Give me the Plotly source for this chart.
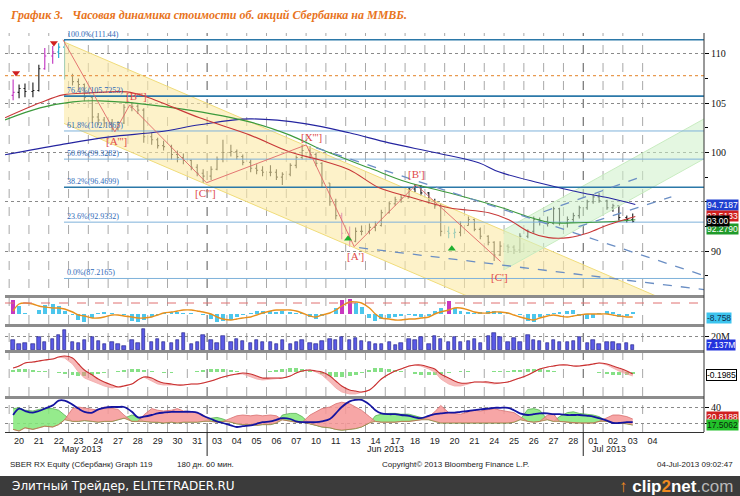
import plotly.graph_objects as go

# ---------------- data ----------------
day_labels = ["20","21","22","23","24","27","28","29","30","31","03","04","05","06","07",
              "10","11","13","14","17","18","19","20","21","24","25","26","27","28","01","02","03","04"]
month_labels = ["May 2013", "Jun 2013", "Jul 2013"]
month_pos = [3.2, 18.5, 29.8]
month_breaks = [9.5, 28.5]

# hourly-ish bars, grouped per trading day
price_open = [[105.8,106.1,106.5],[106.2,106.3,108.5],[109.8,110.2,110.7],[107.8,107.2,106.9],
 [105.6,103.6,103.3],[103.0,102.4,103.0],[104.6,104.7,104.3],[101.6,101.3,100.7],[100.6,99.8,99.5],
 [99.2,98.5,97.9],[97.6,98.3,99.3],[100.0,100.1,99.6],[99.0,98.4,98.2],[98.0,98.0,97.5],
 [97.8,98.7,99.5],[100.2,99.8,98.9],[96.9,95.0,93.6],[91.8,91.0,92.0],[92.0,92.4,92.6],
 [93.9,94.8,95.2],[95.4,96.3,96.5],[95.9,95.1,94.6],[92.0,91.8,91.9],[92.6,93.2,92.2],
 [91.5,90.9,89.6],[90.5,90.4,90.1],[91.5,92.0,93.2],[93.0,92.8,94.3],[92.9,93.2,93.6],
 [94.4,95.0,95.5],[95.1,94.4,94.6],[93.4,93.2]]
price_high = [[107.4,106.9,107.0],[107.1,108.9,110.6],[110.8,111.1,111.44],[108.0,107.5,107.0],
 [105.7,104.0,103.6],[103.4,103.2,104.9],[105.1,104.9,104.5],[102.0,101.5,101.2],[100.8,100.2,99.9],
 [99.3,98.8,98.3],[98.6,99.6,101.3],[100.8,100.3,99.8],[99.3,98.8,98.6],[98.7,98.3,98.0],
 [98.9,99.7,100.8],[100.6,100.0,99.0],[96.9,95.3,93.9],[92.5,92.4,92.6],[92.8,93.0,94.2],
 [95.0,95.5,95.7],[96.5,96.8,96.7],[96.0,95.3,94.8],[92.5,92.3,93.0],[93.5,93.3,92.4],
 [91.6,91.0,91.0],[90.7,90.6,91.8],[92.2,93.5,93.4],[93.5,94.5,94.4],[93.5,93.9,94.6],
 [95.2,95.8,95.9],[95.2,94.8,94.6],[93.6,93.8]]
price_low = [[105.3,105.5,105.6],[105.6,106.2,108.4],[109.0,109.6,107.4],[106.8,106.3,105.2],
 [103.0,102.8,102.6],[102.1,102.2,102.9],[104.2,103.9,101.0],[100.8,100.4,100.2],[99.3,99.0,98.8],
 [98.2,97.6,96.9],[97.2,98.2,99.0],[99.6,99.3,98.7],[98.0,97.8,97.6],[97.6,97.2,96.7],
 [97.6,98.4,99.3],[99.4,98.6,96.5],[94.6,93.2,91.2],[90.45,90.9,91.6],[91.7,92.0,92.5],
 [93.8,94.6,94.9],[95.4,96.0,95.6],[94.8,94.3,91.5],[91.3,91.3,91.5],[92.6,92.0,91.2],
 [90.6,89.0,89.5],[89.8,89.7,89.8],[91.3,91.8,92.6],[92.5,92.7,92.6],[92.4,92.9,93.3],
 [94.2,94.8,94.9],[94.2,94.0,93.1],[92.9,92.9]]
price_close = [[106.1,106.5,106.2],[106.3,108.5,109.8],[110.2,110.7,107.8],[107.2,106.9,105.6],
 [103.6,103.3,103.0],[102.4,103.0,104.6],[104.7,104.3,101.6],[101.3,100.7,100.6],[99.8,99.5,99.2],
 [98.5,97.9,97.6],[98.3,99.3,100.0],[100.1,99.6,99.0],[98.4,98.2,98.0],[98.0,97.5,97.8],
 [98.7,99.5,100.2],[99.8,98.9,96.9],[95.0,93.6,91.8],[91.0,92.0,92.0],[92.4,92.6,93.9],
 [94.8,95.2,95.4],[96.3,96.5,95.9],[95.1,94.6,92.0],[91.8,91.9,92.6],[93.2,92.2,91.5],
 [90.9,89.6,90.5],[90.4,90.1,91.5],[92.0,93.2,93.0],[92.8,94.3,92.9],[93.2,93.6,94.4],
 [95.0,95.5,95.1],[94.4,94.6,93.4],[93.2,93.0]]
bar_tone = ["mkk","kkm","mcc","kkk","kkk","kkk","kkk","kkk","kkk","kkk","kkk","kkk","kkk","kkk",
            "kkk","kkk","kkm","mkk","kkk","kkk","kkk","kkk","cck","kkk","kkk","kkk","kkk","kkk",
            "kkk","kkk","kkk","kk"]

# oscillator panel (histogram + orange signal)
osc_hist = [[14,8,1],[0,4,9],[10,8,3],[-1,-6,-8],[-4,1,2],[1,0,-1],[-7,-8,-6],[-3,-1,1],[2,2,1],
 [1,0,-1],[-5,-8,-7],[-6,-3,-1],[1,3,3],[3,2,3],[2,1,1],[-3,-5,-2],[0,6,14],[15,11,7],[-4,-7,-5],
 [-4,-3,-2],[-1,-2,-3],[-2,3,6],[13,6,3],[2,1,2],[3,3,2],[1,0,-1],[-7,-8,-3],[-1,1,2],[3,4,-2],
 [-5,-4,1],[3,2,-3],[-2,2]]
osc_signal = [[3,10,11],[10,8,7],[6,6,5],[2,-1,-2],[-4,-4,-3],[-1,-1,-2],[-3,-4,-4],[-3,-1,1],
 [2,3,4],[4,3,2],[0,-3,-5],[-6,-5,-4],[-3,-1,1],[3,4,4],[4,3,1],[-2,-3,-1],[1,4,8],[12,12,11],
 [6,0,-4],[-5,-6,-6],[-5,-5,-4],[-3,0,2],[4,6,6],[4,2,1],[1,2,2],[1,-1,-3],[-5,-6,-4],[-2,-1,-2],
 [-3,-2,-1],[0,0,0],[0,-1,-2],[-3,-3]]
osc_level = 11

# volume, millions
volume = [[14,8,10],[9,18,12],[16,22,28],[12,10,15],[18,13,9],[12,8,6],[14,10,30],[12,16,11],
 [10,14,24],[8,12,22],[14,10,20],[12,16,13],[10,14,12],[11,9,15],[8,12,14],[10,9,13],[16,14,18],
 [15,17,13],[12,9,8],[11,7,10],[16,14,18],[9,20,16],[12,18,11],[13,16,10],[20,24,18],[11,17,12],
 [22,15,13],[10,14,12],[11,13,18],[10,14,9],[11,12,8],[10,7.137]]

# MACD-like panel
macd_line = [[4,6,9],[10,11,12],[13,15,16],[14,8,2],[-3,-7,-10],[-13,-15,-14],[-12,-8,-5],
 [-6,-9,-11],[-12,-13,-13],[-12,-12,-11],[-9,-7,-5],[-3,-2,-1],[-2,-4,-6],[-6,-6,-6],[-4,-1,1],
 [2,1,0],[-4,-9,-14],[-18,-19,-20],[-18,-13,-7],[-2,1,3],[6,7,7],[5,3,-2],[-6,-9,-11],
 [-11,-10,-10],[-10,-11,-11],[-10,-8,-6],[-3,0,3],[5,6,7],[7,6,6],[7,8,9],[8,6,4],[1,-2]]
macd_fast = [[5,7,10],[11,12,13],[14,15,14],[8,0,-6],[-9,-12,-14],[-16,-15,-13],[-11,-7,-5],
 [-9,-12,-13],[-13,-13,-12],[-12,-11,-10],[-8,-6,-4],[-2,-1,-2],[-5,-7,-8],[-7,-6,-5],[-3,0,2],
 [2,0,-3],[-10,-16,-20],[-22,-22,-20],[-16,-11,-5],[0,3,4],[7,7,6],[3,0,-7],[-12,-14,-14],
 [-12,-10,-10],[-11,-12,-11],[-9,-7,-5],[-2,1,4],[6,7,7],[7,6,6],[8,9,9],[7,4,1],[-2,-4]]
macd_hist = [[2,3,3],[2,1,1],[0,-1,-2],[-3,-4,-4],[-3,-2,-1],[0,1,2],[3,3,2],[1,0,-1],[-1,0,0],
 [0,1,2],[3,3,3],[2,1,0],[0,0,0],[1,2,3],[4,4,3],[2,0,-2],[-4,-5,-5],[-4,-3,-1],[2,4,4],[3,2,1],
 [0,-2,-3],[-3,-3,-2],[-1,0,1],[1,0,0],[0,1,1],[1,2,2],[3,3,3],[2,1,0],[0,0,0],[0,0,-1],
 [-2,-3,-3],[-3,-2]]

# DMI panel
adx = [[30,38,35],[33,35,38],[42,48,48],[43,38,34],[33,37,39],[40,40,40],[34,27,28],[30,32,33],
 [34,34,34],[34,33,29],[25,22,20],[17,15,16],[17,19,21],[22,24,26],[25,22,21],[21,21,22],
 [25,32,40],[47,49,49],[43,36,32],[31,31,30],[29,27,26],[29,31,32],[33,33,34],[35,36,37],
 [38,39,39],[39,36,32],[30,31,32],[32,31,31],[30,30,30],[29,28,26],[23,20,20],[21,21]]
di_plus = [[38,39,36],[35,37,38],[38,36,30],[22,22,23],[22,21,22],[22,24,26],[30,28,22],
 [21,21,20],[21,20,21],[21,21,22],[26,27,25],[21,19,18],[18,17,18],[18,20,30],[32,32,28],
 [19,17,15],[14,12,11],[12,13,15],[20,29,31],[32,32,31],[31,29,27],[24,22,20],[20,20,20],
 [20,20,20],[20,20,20],[20,21,24],[37,38,36],[24,22,28],[33,34,32],[31,30,28],[22,20,20],[19,17.5]]
di_minus = [[12,10,14],[12,14,16],[15,18,24],[38,40,39],[37,36,40],[38,37,30],[22,22,30],
 [38,36,35],[36,38,35],[34,33,30],[22,21,22],[26,29,30],[29,30,29],[30,29,24],[22,21,21],
 [30,34,38],[40,44,46],[44,40,36],[28,22,21],[21,21,22],[22,23,24],[28,34,42],[33,32,31],
 [34,36,35],[37,38,36],[34,33,28],[22,21,22],[30,31,22],[21,20,20],[20,20,22],[26,30,30],[28,25]]

# moving averages (day index, price)
ma_blue_x = [-0.71,2.07,4.58,7.10,9.12,11.64,14.51,16.68,18.69,21.06,23.22,24.23,26.25,28.41,29.77,31.13]
ma_blue_y = [99.77,100.78,101.59,102.10,102.81,103.41,102.91,102.00,100.98,99.97,98.96,98.04,96.93,95.92,95.41,94.72]
ma_red_x = [-0.71,1.06,2.22,3.58,5.44,6.45,9.12,11.64,13.65,15.16,16.68,18.19,19.70,21.71,23.73,24.74,25.74,26.75,27.76,28.77,29.77,31.13]
ma_red_y = [103.52,105.04,105.85,106.05,106.15,105.64,103.52,101.79,100.07,99.26,98.25,96.42,95.51,94.40,93.89,93.18,91.97,91.36,91.36,91.86,92.67,93.51]
ma_green_x = [-0.71,1.06,2.72,4.08,7.46,11.64,13.65,15.31,17.68,19.55,21.71,24.23,25.89,26.90,28.26,29.77,31.13]
ma_green_y = [103.31,104.53,105.14,105.24,104.63,103.11,101.79,100.27,98.45,97.03,95.92,94.50,93.38,92.88,92.88,92.98,93.18]

# Fibonacci retracement
fib_pct = [100.0, 76.4, 61.8, 50.0, 38.2, 23.6, 0.0]
fib_val = [111.44, 105.7253, 102.1865, 99.3282, 96.4699, 92.9332, 87.2165]
fib_strong = [True, True, False, False, True, False, False]
fib_start = 2.27

# channels and trend lines (day index, price)
chan_x = [2.27, 34.6]
chan_upper = [111.22, 83.35]
chan_lower = [102.95, 75.15]
green_x = [24.48, 34.6]
green_upper = [92.13, 103.41]
green_lower = [88.08, 99.36]
trend_lines = [([17.18, 34.6], [90.34, 86.09]),
               ([15.01, 34.6], [100.48, 87.51]),
               ([28.26, 32.95], [92.47, 95.51]),
               ([26.5, 31.28], [93.99, 97.43])]
resist_level = 107.8

# Elliott wave zigzag and labels
wave_x = [2.22, 4.84, 5.59, 9.47, 14.51, 16.93, 20.05, 24.33]
wave_y = [111.44, 102.10, 104.83, 96.93, 100.78, 90.45, 96.73, 88.93]
wave_lbl = ["[A''']", "[B''']", "[C''']", "[X''']", "[A']", "[B']", "[C']"]
wave_lbl_x = [4.94, 5.94, 9.42, 14.76, 16.98, 20.10, 24.28]
wave_lbl_y = [101.19, 105.74, 95.92, 101.59, 89.53, 97.84, 87.41]
sell_x = [-0.15, 1.76]
sell_y = [108.07, 111.11]
buy_x = [16.62, 21.86]
buy_y = [91.26, 90.24]

# last value boxes
price_boxes = [("94.7187", 94.72, "#1f3fd0", "white"), ("93.5133", 93.51, "#d02020", "white"),
               ("92.2790", 92.28, "#1f9a2a", "white"), ("93.00", 93.0, "#000000", "white")]

# ---------------- build ----------------
def flat(nested):
    return [v for day in nested for v in day]

bar_x = []
for d, day in enumerate(price_close):
    for k in range(len(day)):
        bar_x.append(d - 0.3 + 0.3 * k)

O, H, L, C = flat(price_open), flat(price_high), flat(price_low), flat(price_close)
tones = [t for s in bar_tone for t in s]

X0, X1 = -0.71, 34.6
PY = (85.54, 112.13)

fig = go.Figure()
skip = dict(hoverinfo="skip", showlegend=False)

fig.add_trace(go.Scatter(x=chan_x, y=chan_lower, mode="lines", line=dict(color="#f0dc7a", width=1), **skip))
fig.add_trace(go.Scatter(x=chan_x, y=chan_upper, mode="lines", fill="tonexty",
                         fillcolor="rgba(252,234,165,0.6)", line=dict(color="#f0dc7a", width=1), **skip))
fig.add_trace(go.Scatter(x=green_x, y=green_lower, mode="lines", line=dict(color="#c8ecc0", width=1), **skip))
fig.add_trace(go.Scatter(x=green_x, y=green_upper, mode="lines", fill="tonexty",
                         fillcolor="rgba(205,240,200,0.55)", line=dict(color="#c8ecc0", width=1), **skip))
fig.add_trace(go.Scatter(x=[X0, X1], y=[resist_level, resist_level], mode="lines",
                         line=dict(color="#e89a50", width=1.3, dash="dot"), **skip))
for pct, val, strong in zip(fib_pct, fib_val, fib_strong):
    fig.add_trace(go.Scatter(x=[fib_start, X1], y=[val, val], mode="lines",
                             line=dict(color="#2b78a8" if strong else "#7fb2da", width=1.6 if strong else 1), **skip))
fig.add_trace(go.Scatter(x=ma_blue_x, y=ma_blue_y, mode="lines", line=dict(color="#2424a0", width=1.1, shape="spline"), **skip))
fig.add_trace(go.Scatter(x=ma_green_x, y=ma_green_y, mode="lines", line=dict(color="#3c9a3c", width=1.1, shape="spline"), **skip))
fig.add_trace(go.Scatter(x=ma_red_x, y=ma_red_y, mode="lines", line=dict(color="#c83838", width=1.1, shape="spline"), **skip))
for tx, ty in trend_lines:
    fig.add_trace(go.Scatter(x=tx, y=ty, mode="lines", line=dict(color="#6a8ec4", width=1.3, dash="dash"), **skip))
fig.add_trace(go.Scatter(x=wave_x, y=wave_y, mode="lines", line=dict(color="#e06868", width=0.9), **skip))
tone_col = {"k": "#1a1a1a", "m": "#c030c0", "c": "#22a8d4"}
for t, col in tone_col.items():
    idx = [i for i, tt in enumerate(tones) if tt == t]
    fig.add_trace(go.Ohlc(x=[bar_x[i] for i in idx], open=[O[i] for i in idx], high=[H[i] for i in idx],
                          low=[L[i] for i in idx], close=[C[i] for i in idx],
                          increasing=dict(line=dict(color=col, width=1.1)),
                          decreasing=dict(line=dict(color=col, width=1.1)),
                          tickwidth=0.25, **skip))
fig.add_trace(go.Scatter(x=sell_x, y=sell_y, mode="markers",
                         marker=dict(symbol="triangle-down", size=7, color="#d02020"), **skip))
fig.add_trace(go.Scatter(x=buy_x, y=buy_y, mode="markers",
                         marker=dict(symbol="triangle-up", size=7, color="#20b030"), **skip))

oh = flat(osc_hist)
fig.add_trace(go.Bar(x=bar_x, y=oh, width=0.2, yaxis="y2",
                     marker=dict(color=["#c838c0" if v >= 12 else "#4cc6ec" for v in oh], line=dict(width=0)), **skip))
fig.add_trace(go.Scatter(x=bar_x, y=flat(osc_signal), yaxis="y2", mode="lines",
                         line=dict(color="#e8901c", width=1.4, shape="spline"), **skip))
fig.add_trace(go.Scatter(x=[X0, X1], y=[osc_level, osc_level], yaxis="y2", mode="lines",
                         line=dict(color="#e07070", width=1, dash="dash"), **skip))

fig.add_trace(go.Bar(x=bar_x, y=flat(volume), width=0.17, yaxis="y3",
                     marker=dict(color="#5a5ae6", line=dict(color="#1a1a80", width=0.6)), **skip))

ml, mf = flat(macd_line), flat(macd_fast)
fig.add_trace(go.Bar(x=bar_x, y=flat(macd_hist), width=0.2, yaxis="y4",
                     marker=dict(color="#86e086", line=dict(width=0)), **skip))
fig.add_trace(go.Scatter(x=bar_x, y=ml, yaxis="y4", mode="lines", line=dict(width=0), **skip))
fig.add_trace(go.Scatter(x=bar_x, y=[min(a, b) for a, b in zip(ml, mf)], yaxis="y4", mode="lines",
                         fill="tonexty", fillcolor="rgba(240,130,130,0.55)",
                         line=dict(color="#f2a8a8", width=0.8), **skip))
fig.add_trace(go.Scatter(x=bar_x, y=ml, yaxis="y4", mode="lines",
                         line=dict(color="#c83030", width=1.1, shape="spline"), **skip))

dp, dm = flat(di_plus), flat(di_minus)
base = [min(a, b) for a, b in zip(dp, dm)]
fig.add_trace(go.Scatter(x=bar_x, y=base, yaxis="y5", mode="lines", line=dict(width=0), **skip))
fig.add_trace(go.Scatter(x=bar_x, y=dp, yaxis="y5", mode="lines", fill="tonexty",
                         fillcolor="rgba(130,232,120,0.85)", line=dict(color="#58b050", width=0.8), **skip))
fig.add_trace(go.Scatter(x=bar_x, y=base, yaxis="y5", mode="lines", line=dict(width=0), **skip))
fig.add_trace(go.Scatter(x=bar_x, y=dm, yaxis="y5", mode="lines", fill="tonexty",
                         fillcolor="rgba(246,150,150,0.85)", line=dict(color="#d87070", width=0.8), **skip))
fig.add_trace(go.Scatter(x=bar_x, y=base, yaxis="y5", mode="lines", line=dict(color="#a08040", width=0.7), **skip))
fig.add_trace(go.Scatter(x=bar_x, y=flat(adx), yaxis="y5", mode="lines",
                         line=dict(color="#1414a0", width=1.8, shape="spline"), **skip))

# ---------------- layout ----------------
TOP, BOT, H_ = 33, 432, 399
def py(px):  # pixel row -> paper y
    return (BOT - px) / H_

tickfont = dict(family="Liberation Serif, DejaVu Serif", size=10, color="#111")
common_y = dict(side="right", anchor="x", zeroline=False, showline=False, ticks="outside",
                ticklen=4, tickcolor="#000", tickfont=tickfont, fixedrange=True)
plain_y = {k: v for k, v in common_y.items() if k != "ticks"}

fig.update_layout(
    width=740, height=496, margin=dict(l=5, r=36, t=33, b=64),
    paper_bgcolor="white", plot_bgcolor="white", showlegend=False, bargap=0,
    xaxis=dict(domain=[0, 1], anchor="y5", range=[X0, X1], tickmode="array",
               tickvals=list(range(len(day_labels))), ticktext=day_labels, ticks="", showgrid=False,
               showline=True, linecolor="#333", linewidth=1, zeroline=False, fixedrange=True,
               tickfont=dict(family="Liberation Sans Narrow, Liberation Sans", size=9, color="#222"),
               rangeslider=dict(visible=False)),
    yaxis=dict(domain=[py(295), 1], range=list(PY), tickmode="array",
               tickvals=[90, 95, 100, 105, 110], ticktext=["90", "", "100", "105", "110"],
               showgrid=True, gridcolor="#8a8a8a", griddash="dot", gridwidth=1,
               minor=dict(dtick=2.5, ticklen=3, ticks="outside", tickcolor="#000", showgrid=False),
               **common_y),
    yaxis2=dict(domain=[py(324), py(298)], range=[-10, 16], showticklabels=False, ticks="",
                showgrid=False, **plain_y),
    yaxis3=dict(domain=[py(350), py(327)], range=[0, 32.9], tickmode="array", tickvals=[20],
                ticktext=["20M"], showgrid=True, gridcolor="#8a8a8a", griddash="dot", **common_y),
    yaxis4=dict(domain=[py(396), py(353)], range=[-24, 19], showticklabels=False, ticks="",
                showgrid=False, **plain_y),
    yaxis5=dict(domain=[0, py(399)], range=[8.75, 50], tickmode="array", tickvals=[40, 20],
                ticktext=["40", ""], showgrid=True, gridcolor="#8a8a8a", griddash="dot", **common_y),
)

shapes = []
for i in range(-1, 32):
    xv = i + 0.5
    dark = xv in month_breaks
    shapes.append(dict(type="line", xref="x", yref="paper", x0=xv, x1=xv, y0=0, y1=1, layer="below",
                       line=dict(color="#555" if dark else "#a8a8a8", width=1, dash="dash")))
for xv in month_breaks:
    shapes.append(dict(type="line", xref="x", yref="paper", x0=xv, x1=xv, y0=0, y1=py(456),
                       line=dict(color="#222", width=1)))
for pr in [296.5, 325.5, 351.5, 397.5]:
    shapes.append(dict(type="line", xref="paper", yref="paper", x0=0, x1=1, y0=py(pr), y1=py(pr),
                       line=dict(color="#8c8c8c", width=3)))
shapes.append(dict(type="line", xref="paper", yref="paper", x0=1, x1=1, y0=0, y1=1,
                   line=dict(color="#333", width=1)))
shapes.append(dict(type="rect", xref="paper", yref="paper", x0=-6 / 699, x1=737 / 699,
                   y0=py(498), y1=py(476), fillcolor="#3b3b3b", line=dict(width=0)))
fig.update_layout(shapes=shapes)

def A(**kw):
    kw.setdefault("showarrow", False)
    kw.setdefault("xanchor", "center")
    kw.setdefault("yanchor", "middle")
    return kw

ann = []
ann.append(A(xref="paper", yref="paper", x=3 / 699, y=py(15), xanchor="left",
             text="<b><i>График 3.&nbsp;&nbsp; Часовая динамика стоимости об. акций Сбербанка на ММВБ.</i></b>",
             font=dict(family="Liberation Serif, DejaVu Serif", size=12, color="#e8741c")))
for pct, val in zip(fib_pct, fib_val):
    ann.append(A(x=fib_start + 0.03, y=val, xref="x", yref="y", xanchor="left", yanchor="bottom",
                 text=f"{pct:.1f}%({val})", yshift=-1,
                 font=dict(family="Liberation Serif, DejaVu Serif", size=8, color="#2f6ab8")))
for t, wx, wy in zip(wave_lbl, wave_lbl_x, wave_lbl_y):
    ann.append(A(x=wx, y=wy, xref="x", yref="y", text=t,
                 font=dict(family="Liberation Serif, DejaVu Serif", size=11, color="#e04a4a")))
box = dict(family="Liberation Sans Narrow, Liberation Sans", size=8.5)
BX = 1.0025
for txt, val, bg, fc in price_boxes:
    ann.append(A(x=BX, y=val, xref="paper", yref="y", xanchor="left", text=txt,
                 bgcolor=bg, borderpad=0, align="left", font=dict(box, color=fc)))
ann.append(A(x=BX, y=flat(osc_signal)[-1] - 1, xref="paper", yref="y2", xanchor="left", text="-8.758",
             bgcolor="#3cc4ee", borderpad=0, align="left", font=dict(box, color="#103050")))
ann.append(A(x=BX, y=flat(volume)[-1], xref="paper", yref="y3", xanchor="left", text="7.137M",
             bgcolor="#2233dd", borderpad=0, align="left", font=dict(box, color="white")))
ann.append(A(x=BX, y=ml[-1] - 1, xref="paper", yref="y4", xanchor="left", text="-0.1985",
             bgcolor="white", bordercolor="#000", borderwidth=1, borderpad=0,
             align="left", font=dict(box, color="#000")))
ann.append(A(x=BX, y=27.5, xref="paper", yref="y5", xanchor="left", text="20.8188",
             bgcolor="#d02020", borderpad=0, align="left", font=dict(box, color="white")))
ann.append(A(x=BX, y=dp[-1], xref="paper", yref="y5", xanchor="left", text="17.5062",
             bgcolor="#22c02a", borderpad=0, align="left", font=dict(box, color="#0a2a0a")))
for lbl, pos in zip(month_labels, month_pos):
    ann.append(A(x=pos, y=py(449), xref="x", yref="paper", text=lbl,
                 font=dict(family="Liberation Sans Narrow, Liberation Sans", size=9, color="#222")))
foot = dict(family="Liberation Sans Narrow, Liberation Sans", size=8, color="#222")
ann.append(A(x=3 / 699, y=py(464), xref="paper", yref="paper", xanchor="left",
             text="SBER RX Equity (Сбербанк) Graph 119", font=foot))
ann.append(A(x=170 / 699, y=py(464), xref="paper", yref="paper", xanchor="left",
             text="180 дн. 60 мин.", font=foot))
ann.append(A(x=375 / 699, y=py(464), xref="paper", yref="paper", xanchor="left",
             text="Copyright© 2013 Bloomberg Finance L.P.", font=foot))
ann.append(A(x=730 / 699, y=py(464), xref="paper", yref="paper", xanchor="right",
             text="04-Jul-2013 09:02:47", font=foot))
ann.append(A(x=5 / 699, y=py(486), xref="paper", yref="paper", xanchor="left",
             text="Элитный Трейдер, ELITETRADER.RU",
             font=dict(family="DejaVu Sans", size=12, color="white")))
ann.append(A(x=730 / 699, y=py(486), xref="paper", yref="paper", xanchor="right",
             text="<b><span style='color:#f08a20'>↑</span> clip<span style='color:#f08a20'>2</span>net</b><span style='color:#b8b8b8'>.com</span>",
             font=dict(family="Liberation Sans Narrow, Liberation Sans", size=17, color="white")))
fig.update_layout(annotations=ann)

fig.write_html("out.html", config={"displayModeBar": False},
               post_script="document.body.style.margin='0';document.body.style.overflow='hidden';")
